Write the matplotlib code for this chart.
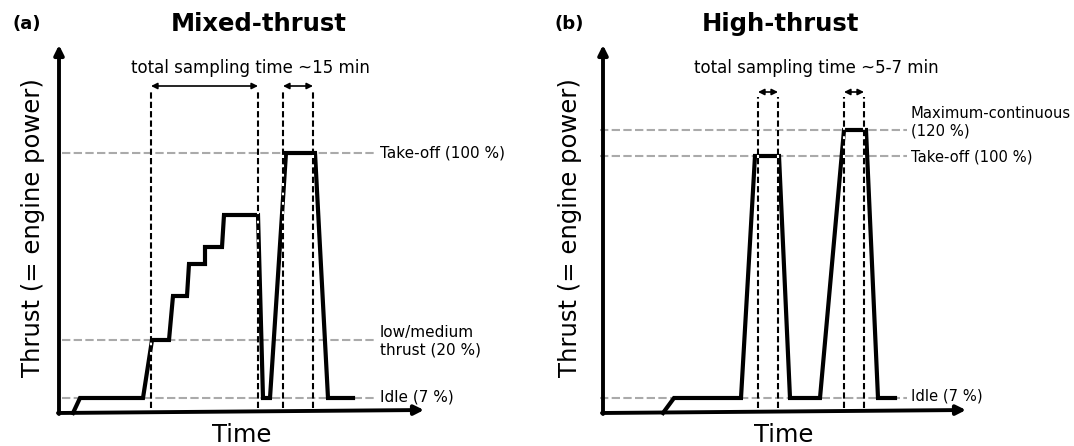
import matplotlib
matplotlib.use('Agg')
import matplotlib.pyplot as plt

# (a) mixed-thrust profile, schematic units
mix_t = [14, 21, 84, 93, 110, 114, 128, 130, 146, 146, 163, 165, 199, 204, 211, 227, 256, 269, 294]
mix_h = [0, 15, 15, 73, 73, 117, 117, 149, 149, 166, 166, 198, 198, 15, 15, 260, 260, 15, 15]
mix_levels = [260, 73, 15]
mix_labels = ['Take-off (100 %)', 'low/medium\nthrust (20 %)', 'Idle (7 %)']
mix_label_y = [260, 72, 16]
mix_vlines = [92, 199, 224, 254]

# (b) high-thrust profile
high_t = [60, 71, 138, 152, 176, 187, 217, 241, 263, 275, 292]
high_h = [0, 15, 15, 257, 257, 15, 15, 283, 283, 15, 15]
high_levels = [283, 257, 15]
high_labels = ['Maximum-continuous\n(120 %)', 'Take-off (100 %)', 'Idle (7 %)']
high_label_y = [291, 256, 17]
high_vlines = [155, 175, 241, 261]

fig = plt.figure(figsize=(10.74, 4.46), dpi=100)

panels = [
    dict(pos=[0, 0, 0.5, 1], xlim=(-59, 478), t=mix_t, h=mix_h, levels=mix_levels,
         labels=mix_labels, label_y=mix_label_y, vl=mix_vlines, gray=(3, 316), lab_x=321, lab_fs=11,
         vtop=323, arr_y=327, xend=365, tag='(a)', tag_x=-47, title='Mixed-thrust', title_x=200,
         samp='total sampling time ~15 min', samp_x=191, ylab_x=-26, time_x=183),
    dict(pos=[0.5, 0, 0.5, 1], xlim=(-66, 471), t=high_t, h=high_h, levels=high_levels,
         labels=high_labels, label_y=high_label_y, vl=high_vlines, gray=(-3, 304), lab_x=308, lab_fs=10.6,
         vtop=316, arr_y=321, xend=363, tag='(b)', tag_x=-48, title='High-thrust', title_x=177,
         samp='total sampling time ~5-7 min', samp_x=213, ylab_x=-33, time_x=181),
]

for p in panels:
    ax = fig.add_axes(p['pos'])
    ax.set_xlim(*p['xlim'])
    ax.set_ylim(-33, 413)
    ax.axis('off')

    # reference levels
    for lv in p['levels']:
        ax.plot(p['gray'], [lv, lv], color='#aaaaaa', lw=1.5, dashes=(4, 1.6), zorder=1)
    for txt, ly in zip(p['labels'], p['label_y']):
        ax.text(p['lab_x'], ly, txt, fontsize=p['lab_fs'], ha='left', va='center', linespacing=1.2)

    # thrust profile
    ax.plot(p['t'], p['h'], color='black', lw=3, solid_joinstyle='miter', zorder=2)

    # sampling windows
    for x in p['vl']:
        ax.plot([x, x], [5, p['vtop']], color='black', lw=1.5, dashes=(3, 1.5),
                gapcolor='white', zorder=3)
    for a, b in [(p['vl'][0], p['vl'][1]), (p['vl'][2], p['vl'][3])]:
        ax.annotate('', xy=(b, p['arr_y']), xytext=(a, p['arr_y']),
                    arrowprops=dict(arrowstyle='<|-|>', lw=1.2, color='black',
                                    mutation_scale=9, shrinkA=0, shrinkB=0))

    # axes with arrows
    ax.annotate('', xy=(0, 368), xytext=(0, -1),
                arrowprops=dict(arrowstyle='-|>', lw=2.8, color='black',
                                mutation_scale=14, shrinkA=0, shrinkB=0))
    ax.annotate('', xy=(p['xend'], 3), xytext=(-1, 0),
                arrowprops=dict(arrowstyle='-|>', lw=2.8, color='black',
                                mutation_scale=14, shrinkA=0, shrinkB=0))

    ax.text(p['tag_x'], 389, p['tag'], fontsize=13, fontweight='bold', ha='left', va='center')
    ax.text(p['title_x'], 389, p['title'], fontsize=17.5, fontweight='bold', ha='center', va='center')
    ax.text(p['samp_x'], 345, p['samp'], fontsize=12, ha='center', va='center')
    ax.text(p['ylab_x'], 185, 'Thrust (= engine power)', fontsize=17.5, rotation=90,
            ha='center', va='center')
    ax.text(p['time_x'], -22, 'Time', fontsize=17.5, ha='center', va='center')

fig.savefig('out.png', dpi=100)
